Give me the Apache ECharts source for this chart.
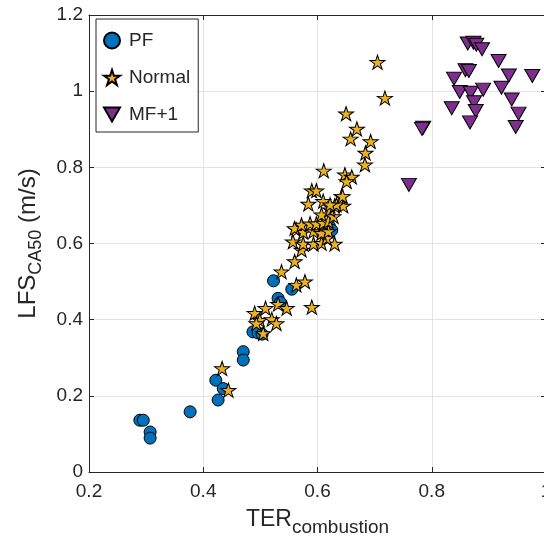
<!DOCTYPE html>
<html><head><meta charset="utf-8">
<script src="https://cdn.jsdelivr.net/npm/echarts@6/dist/echarts.min.js"></script>
<style>html,body{margin:0;padding:0;background:#fff}#c{width:544px;height:550px}</style>
</head><body><div id="c"></div>
<script>
const seriesNames = ['PF', 'Normal', 'MF+1'];
const xTicks = [0.2, 0.4, 0.6, 0.8, 1];
const yTicks = [0, 0.2, 0.4, 0.6, 0.8, 1, 1.2];
const pfData = [[0.289,0.136],[0.295,0.136],[0.307,0.105],[0.307,0.089],[0.377,0.158],[0.422,0.241],[0.435,0.219],[0.426,0.189],[0.470,0.316],[0.470,0.294],[0.487,0.368],[0.496,0.365],[0.503,0.362],[0.523,0.502],[0.531,0.456],[0.535,0.445],[0.555,0.48],[0.621,0.645],[0.625,0.635]];
const normalData = [[0.433,0.272],[0.444,0.215],[0.490,0.417],[0.509,0.43],[0.531,0.441],[0.546,0.43],[0.590,0.433],[0.499,0.399],[0.52,0.401],[0.493,0.39],[0.528,0.39],[0.505,0.364],[0.563,0.491],[0.578,0.5],[0.537,0.526],[0.56,0.553],[0.572,0.583],[0.557,0.605],[0.575,0.599],[0.593,0.599],[0.607,0.601],[0.63,0.599],[0.616,0.614],[0.563,0.636],[0.575,0.63],[0.593,0.632],[0.607,0.627],[0.619,0.632],[0.56,0.64],[0.572,0.649],[0.587,0.652],[0.598,0.652],[0.61,0.654],[0.619,0.658],[0.607,0.676],[0.628,0.671],[0.622,0.689],[0.630,0.699],[0.645,0.699],[0.61,0.711],[0.584,0.704],[0.642,0.724],[0.59,0.739],[0.598,0.739],[0.611,0.791],[0.648,0.781],[0.66,0.775],[0.651,0.763],[0.683,0.807],[0.684,0.838],[0.693,0.868],[0.658,0.875],[0.669,0.901],[0.65,0.941],[0.718,0.982],[0.705,1.076],[0.633,0.702],[0.622,0.702],[0.644,0.724]];
const mfData = [[0.863,1.125],[0.873,1.127],[0.878,1.122],[0.888,1.11],[0.917,1.079],[0.859,1.055],[0.865,1.053],[0.839,1.033],[0.935,1.041],[0.976,1.04],[0.849,0.998],[0.868,0.996],[0.890,1.004],[0.922,1.009],[0.874,0.971],[0.94,0.978],[0.835,0.955],[0.877,0.948],[0.952,0.941],[0.867,0.918],[0.947,0.906],[0.785,0.904],[0.783,0.901],[0.760,0.754]];

const STAR = 'path://M100,0 L122.45,69.1 L195.1,69.1 L136.3,111.8 L158.8,180.9 L100,138.2 L41.2,180.9 L63.7,111.8 L4.9,69.1 L77.55,69.1 Z';
const TRI_DOWN = 'path://M0,0 L100,0 L50,86.6 Z';
const FONT = 'Liberation Sans, Arial, sans-serif';
const TXT = '#262626';
const AX = '#262626';

const chart = echarts.init(document.getElementById('c'), null, {renderer: 'canvas'});
const axisCommon = {
  axisLine: {show: true, onZero: false, lineStyle: {color: AX, width: 1}},
  axisTick: {show: true, inside: true, length: 5, lineStyle: {color: AX}},
  splitLine: {show: false}
};
chart.setOption({
  animation: false,
  backgroundColor: '#fff',
  grid: {left: 89, top: 15, width: 457, height: 457, containLabel: false, outerBoundsMode: 'none'},
  legend: {
    left: 96, top: 19, orient: 'vertical',
    data: seriesNames,
    borderColor: '#262626', borderWidth: 1, backgroundColor: '#fff',
    padding: [12, 8, 8, 7], itemGap: 18, itemWidth: 16, itemHeight: 16,
    textStyle: {fontFamily: FONT, fontSize: 19, color: TXT, padding: [0, 0, 0, 4]}
  },
  xAxis: [{
    type: 'value', min: xTicks[0], max: xTicks[xTicks.length - 1], interval: 0.2,
    ...axisCommon,
    splitLine: {show: true, lineStyle: {color: '#e3e3e3', width: 1}},
    axisLabel: {margin: 10, fontFamily: FONT, fontSize: 19, color: TXT},
    name: '{a|TER}{b|combustion}', nameLocation: 'middle', nameGap: 36,
    nameTextStyle: {rich: {
      a: {fontFamily: FONT, fontSize: 23, color: TXT, verticalAlign: 'top'},
      b: {fontFamily: FONT, fontSize: 19, color: TXT, verticalAlign: 'top', padding: [10, 0, 0, 0]}
    }}
  }, {
    type: 'value', position: 'top', min: xTicks[0], max: xTicks[xTicks.length - 1], interval: 0.2,
    ...axisCommon, axisLabel: {show: false}
  }],
  yAxis: [{
    type: 'value', min: yTicks[0], max: yTicks[yTicks.length - 1], interval: 0.2,
    ...axisCommon,
    splitLine: {show: true, lineStyle: {color: '#e3e3e3', width: 1}},
    axisLabel: {margin: 6, fontFamily: FONT, fontSize: 19, color: TXT},
    name: '{a|LFS}{b|CA50}{a| (m/s)}', nameLocation: 'middle', nameGap: 44, nameRotate: 90,
    nameTextStyle: {rich: {
      a: {fontFamily: FONT, fontSize: 24, color: TXT, verticalAlign: 'top'},
      b: {fontFamily: FONT, fontSize: 18, color: TXT, verticalAlign: 'top', padding: [11, 0, 0, 0]}
    }}
  }, {
    type: 'value', position: 'right', min: yTicks[0], max: yTicks[yTicks.length - 1], interval: 0.2,
    ...axisCommon, axisLabel: {show: false}
  }],
  series: [{
    name: seriesNames[0], type: 'scatter', data: pfData,
    symbol: 'circle', symbolSize: 12,
    itemStyle: {color: '#0072BD', borderColor: '#000', borderWidth: 1, opacity: 1}
  }, {
    name: seriesNames[1], type: 'scatter', data: normalData,
    symbol: STAR, symbolSize: [15, 14],
    itemStyle: {color: '#EDB120', borderColor: '#000', borderWidth: 1, opacity: 1}
  }, {
    name: seriesNames[2], type: 'scatter', data: mfData,
    symbol: TRI_DOWN, symbolSize: [15, 13],
    itemStyle: {color: '#7E2F8E', borderColor: '#000', borderWidth: 1, opacity: 1}
  }]
});
</script></body></html>
